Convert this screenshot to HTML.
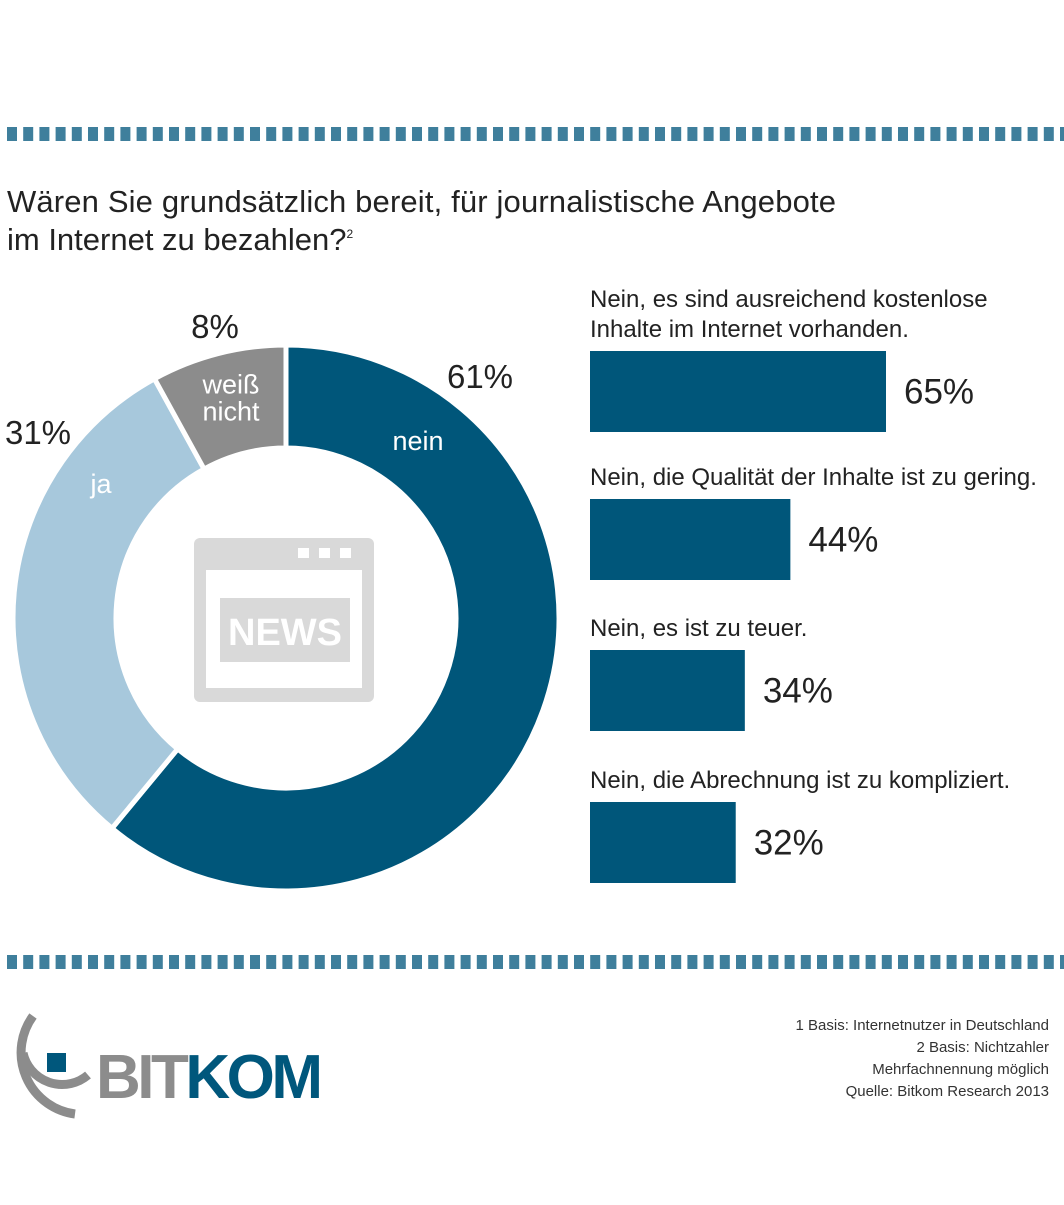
<!DOCTYPE html>
<html><head><meta charset="utf-8">
<style>
html,body{margin:0;padding:0;background:#fff;}
body{width:1064px;height:1200px;overflow:hidden;font-family:"Liberation Sans",sans-serif;}
svg text{font-family:"Liberation Sans",sans-serif;}
</style></head>
<body>
<svg id="chart" width="1064" height="1200" viewBox="0 0 1064 1200">
  <g id="dash-top"></g>
  <g id="dash-bottom"></g>
  <text x="7" y="212" font-size="31" fill="#222" textLength="829">Wären Sie grundsätzlich bereit, für journalistische Angebote</text>
  <text x="7" y="250" font-size="31" fill="#222">im Internet zu bezahlen?<tspan font-size="12" dy="-12">2</tspan></text>
  <g id="donut"></g>
  <g id="news-icon">
    <rect x="194" y="538" width="180" height="164" rx="6" fill="#d9d9d9"/>
    <rect x="206" y="570" width="156" height="118" fill="#fff"/>
    <rect x="298" y="548" width="11" height="10" fill="#fff"/>
    <rect x="319" y="548" width="11" height="10" fill="#fff"/>
    <rect x="340" y="548" width="11" height="10" fill="#fff"/>
    <rect x="220" y="598" width="130" height="64" fill="#d9d9d9"/>
    <text x="285" y="645" font-size="38" font-weight="bold" fill="#fff" text-anchor="middle">NEWS</text>
  </g>
  <g id="bars"></g>
  <g id="logo">
    <path d="M33 1016 A62 62 0 0 0 75 1114" fill="none" stroke="#8c8c8c" stroke-width="9"/>
    <path d="M23 1053 A40 40 0 0 0 88 1075" fill="none" stroke="#8c8c8c" stroke-width="9"/>
    <rect x="47" y="1053" width="19" height="19" fill="#00577c"/>
    <text x="96" y="1098" font-size="62" font-weight="bold" fill="#8c8c8c" letter-spacing="-3" textLength="224">BIT<tspan fill="#00577c">KOM</tspan></text>
  </g>
  <g font-size="15" fill="#333" text-anchor="end">
    <text x="1049" y="1030">1 Basis: Internetnutzer in Deutschland</text>
    <text x="1049" y="1052">2 Basis: Nichtzahler</text>
    <text x="1049" y="1074">Mehrfachnennung möglich</text>
    <text x="1049" y="1096">Quelle: Bitkom Research 2013</text>
  </g>
</svg>
<script>
const donutLabels = ["nein", "ja", "weiß nicht"];
const donutValues = [61, 31, 8];
const barLabels = ["Nein, es sind ausreichend kostenlose|Inhalte im Internet vorhanden.", "Nein, die Qualität der Inhalte ist zu gering.", "Nein, es ist zu teuer.", "Nein, die Abrechnung ist zu kompliziert."];
const barValues = [65, 44, 34, 32];

const NS = "http://www.w3.org/2000/svg";
function mk(tag, attrs, parent){const e=document.createElementNS(NS,tag);for(const k in attrs)e.setAttribute(k,attrs[k]);parent.appendChild(e);return e;}

[["dash-top",127],["dash-bottom",955]].forEach(([id,y])=>{
  const g=document.getElementById(id);
  for(let x=7;x<1064;x+=16.2){
    const r=mk("rect",{x:x,y:y,width:10,height:14,fill:"#3f7f9c"},g);
    
    
  }
});

const cx=286, cy=618, R=273, r0=170;
const colors=["#00567a","#a7c8dc","#8c8c8c"];
const total=donutValues.reduce((a,b)=>a+b,0);
const dg=document.getElementById("donut");
function pt(rad,a){return [cx+rad*Math.sin(a), cy-rad*Math.cos(a)];}
let acc=0;
const outerPos=[[480,376],[38,432],[215,326]];
const innerPos=[[418,440],[101,483],[231,397]];
donutValues.forEach((v,i)=>{
  const a0=acc/total*2*Math.PI, a1=(acc+v)/total*2*Math.PI; acc+=v;
  const large=(a1-a0)>Math.PI?1:0;
  const p0=pt(R,a0),p1=pt(R,a1),q1=pt(r0,a1),q0=pt(r0,a0);
  const p=mk("path",{d:`M${p0} A${R} ${R} 0 ${large} 1 ${p1} L${q1} A${r0} ${r0} 0 ${large} 0 ${q0}Z`,fill:colors[i],stroke:"#fff","stroke-width":5},dg);
  
  
  const lp=innerPos[i];
  const words=donutLabels[i].split(" ");
  words.forEach((w,k)=>{
    const t=mk("text",{x:lp[0],y:lp[1]+10+(k-(words.length-1)/2)*27,"font-size":27,fill:"#fff","text-anchor":"middle"},dg);
    t.textContent=w;
    
    
  });
  const o=mk("text",{x:outerPos[i][0],y:outerPos[i][1]+12,"font-size":33,fill:"#222","text-anchor":"middle"},dg);
  o.textContent=v+"%";
  
  
});

const bg=document.getElementById("bars");
const bx=590, scale=296/65, barTop=[351,499,650,802], bh=81;
barValues.forEach((v,i)=>{
  const y=barTop[i], w=v*scale;
  const lines=barLabels[i].split("|");
  lines.forEach((l,k)=>{
    const t=mk("text",{x:bx,y:y-(lines.length-1-k)*30-14,"font-size":24,fill:"#222"},bg);
    t.textContent=l;
    
    
  });
  const r=mk("rect",{x:bx,y:y,width:w,height:bh,fill:"#00567a"},bg);
  
  
  const t=mk("text",{x:bx+w+18,y:y+bh/2+12,"font-size":35,fill:"#222"},bg);
  t.textContent=v+"%";
  
  
});
</script>
</body></html>
